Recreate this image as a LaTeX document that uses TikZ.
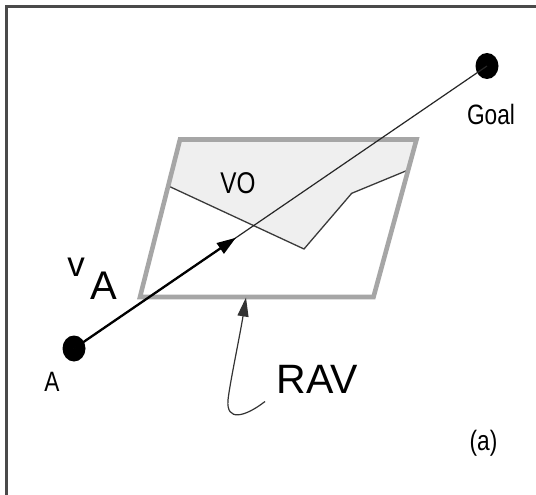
\documentclass[tikz,border=0pt]{standalone}
\usepackage{fontspec}
\setmainfont{Liberation Sans}
\newfontfamily\narrowfont[FakeStretch=0.81]{Liberation Sans}
\usetikzlibrary{arrows.meta,shapes.geometric,calc}
\definecolor{ravgray}{HTML}{A6A6A6}
\definecolor{vofill}{HTML}{EFEFEF}
\definecolor{voline}{HTML}{3A3A3A}
\definecolor{framecol}{HTML}{4A4A4A}
\begin{document}
\begin{tikzpicture}[x=1pt,y=-1pt,
  framestyle/.style={draw=framecol,line width=2.4pt},
  ravstyle/.style={draw=ravgray,line width=4.6pt,line join=miter},
  vostyle/.style={draw=voline,line width=1.3pt},
  dotnode/.style={ellipse,fill=black,minimum width=23pt,minimum height=26pt,inner sep=0pt},
  thinline/.style={draw=black!85,line width=1.2pt},
  thickline/.style={draw=black,line width=2.3pt},
  ravarrow/.style={draw=black!80,line width=1.2pt},
  lbl/.style={anchor=base,inner sep=0pt,text=black}
]
\useasboundingbox (0,0) rectangle (536,495);
\fill[white] (0,0) rectangle (536,495);
\draw[framestyle] (6.5,500) -- (6.5,6.5) -- (540,6.5);
% VO region
\fill[vofill] (180,139.5) -- (416.5,139.5) -- (408.2,170) -- (351.7,193.3) -- (304,249) -- (168.4,186) -- cycle;
\draw[vostyle] (168.4,186) -- (304,249) -- (351.7,193.3) -- (408.2,170);
% RAV parallelogram
\draw[ravstyle] (180,139.5) -- (416.5,139.5) -- (373.5,297) -- (140,297) -- cycle;
% agent and goal
\node[dotnode] (A) at (74,348.5) {};
\node[dotnode] (G) at (487,66) {};
\coordinate (tip) at ($(A.center)!0.392!(G.center)$);
\draw[thinline] (A.center) -- (G.center);
\draw[thickline,-{Triangle[length=19pt,width=12.5pt]}] (A.center) -- (tip);
% labels
\node[lbl,font=\narrowfont\fontsize{28}{30}\selectfont] (goal) at (491,124.5) {Goal};
\node[lbl,font=\narrowfont\fontsize{30}{32}\selectfont] (vo) at (238,193) {VO};
\node[lbl,font=\fontsize{35}{38}\selectfont] (v) at (76,276.7) {v};
\node[lbl,font=\fontsize{40}{44}\selectfont] (bigA) at (103.7,299.3) {A};
\node[lbl,font=\narrowfont\fontsize{28}{30}\selectfont] (alab) at (52,391.7) {A};
\node[lbl,font=\fontsize{41}{44}\selectfont] (rav) at (317.5,393.3) {RAV};
\node[lbl,font=\narrowfont\fontsize{28}{30}\selectfont] (sub) at (483.5,450.8) {(a)};
% RAV pointer
\coordinate (ravtail) at (265,401.5);
\coordinate (ravtip) at (246,297.5);
\draw[ravarrow,-{Triangle[length=19pt,width=11pt]}] (ravtail) .. controls (245,417) and (226,422) .. (228,400) .. controls (229.5,385) and (240,335) .. (ravtip);
\end{tikzpicture}
\end{document}
